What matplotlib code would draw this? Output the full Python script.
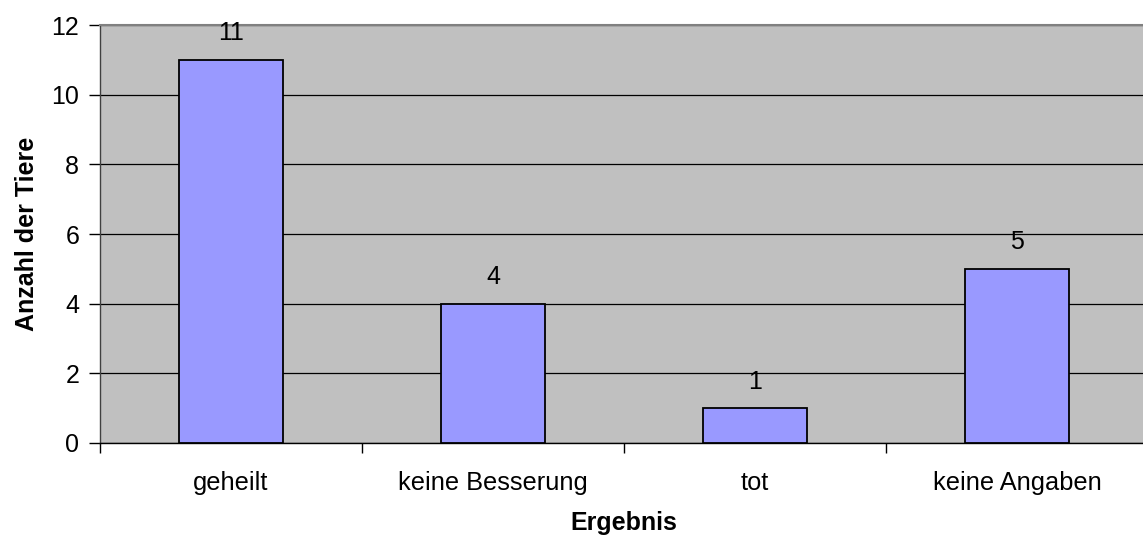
import matplotlib
matplotlib.use("Agg")
import matplotlib.pyplot as plt
from matplotlib.ticker import FixedLocator, NullFormatter

categories = ["geheilt", "keine Besserung", "tot", "keine Angaben"]
counts = [11, 4, 1, 5]
y_ticks = [0, 2, 4, 6, 8, 10, 12]

plt.rcParams["font.family"] = ["Liberation Sans", "DejaVu Sans"]

fig = plt.figure(figsize=(11.43, 5.37), dpi=100)
ax = fig.add_axes([100 / 1143, 94 / 537, 1048 / 1143, 418 / 537])
ax.set_facecolor("#c0c0c0")

x = list(range(len(categories)))
ax.bar(x, counts, width=0.4, color="#9999ff", edgecolor="black", linewidth=1.3, zorder=3)

for xi, v in zip(x, counts):
    ax.annotate(str(v), (xi, v), xytext=(0, 10.5), textcoords="offset points",
                ha="center", va="bottom", fontsize=18, zorder=4)

ax.set_xlim(-0.5, len(categories) - 0.5)
ax.set_ylim(0, 12)
ax.set_yticks(y_ticks)
ax.yaxis.grid(True, color="black", linewidth=0.9, zorder=1)
ax.set_axisbelow(True)

ax.set_xticks(x)
ax.set_xticklabels(categories, fontsize=18.3)
ax.xaxis.set_minor_locator(FixedLocator([i - 0.5 for i in range(len(categories) + 1)]))
ax.xaxis.set_minor_formatter(NullFormatter())
ax.tick_params(axis="x", which="major", length=0, pad=20)
ax.tick_params(axis="x", which="minor", length=7, direction="out", color="black", width=1)
ax.tick_params(axis="y", length=8, direction="out", width=1, labelsize=18, pad=7)

ax.spines["top"].set_color("#808080")
ax.spines["top"].set_linewidth(1.5)
ax.spines["right"].set_visible(False)
ax.spines["left"].set_color("#404040")
ax.spines["left"].set_linewidth(1.0)
ax.spines["bottom"].set_color("black")
ax.spines["bottom"].set_linewidth(1.0)

ax.set_ylabel("Anzahl der Tiere", fontsize=18, fontweight="bold", labelpad=9)
ax.set_xlabel("Ergebnis", fontsize=18, fontweight="bold", labelpad=12)

fig.savefig("out.png", dpi=100)
